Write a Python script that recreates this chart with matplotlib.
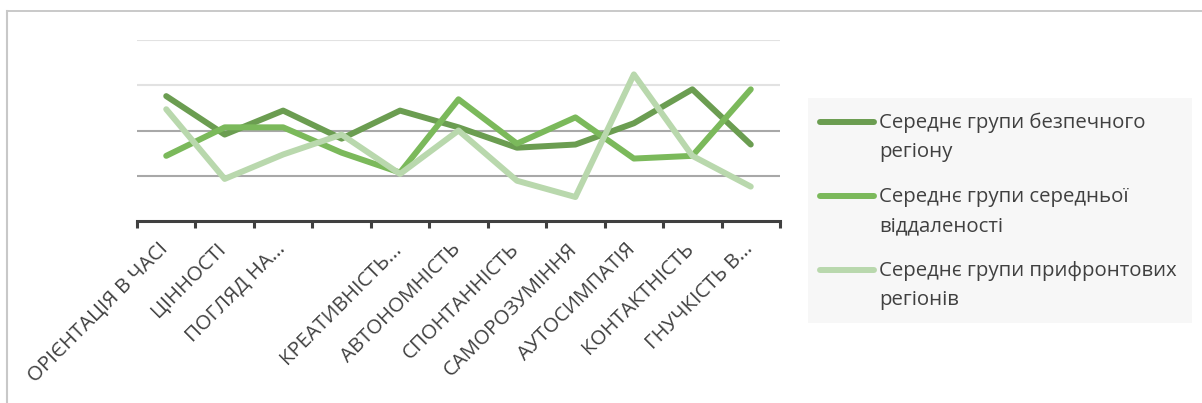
import matplotlib
matplotlib.use('Agg')
import matplotlib.pyplot as plt
from matplotlib.lines import Line2D
from matplotlib.patches import Rectangle
from matplotlib.transforms import ScaledTranslation
import numpy as np

plt.rcParams['font.family'] = ['Open Sans', 'DejaVu Sans']

# categories (4th label is hidden on the reference axis)
categories = ['ОРІЄНТАЦІЯ В ЧАСІ', 'ЦІННОСТІ', 'ПОГЛЯД НА...', '',
              'КРЕАТИВНІСТЬ...', 'АВТОНОМНІСТЬ', 'СПОНТАННІСТЬ',
              'САМОРОЗУМІННЯ', 'АУТОСИМПАТІЯ', 'КОНТАКТНІСТЬ', 'ГНУЧКІСТЬ В...']

safe = [2.76, 1.91, 2.44, 1.82, 2.44, 2.07, 1.62, 1.69, 2.16, 2.91, 1.69]
middle = [1.44, 2.07, 2.07, 1.51, 1.07, 2.69, 1.71, 2.29, 1.38, 1.44, 2.91]
front = [2.47, 0.93, 1.47, 1.91, 1.04, 2.00, 0.89, 0.53, 3.24, 1.44, 0.76]

series = [safe, middle, front]
names = ['Середнє групи безпечного\nрегіону',
         'Середнє групи середньої\nвіддаленості',
         'Середнє групи прифронтових\nрегіонів']
colors = ['#6b9d51', '#7bb95b', '#b9d8ad']

fig = plt.figure(figsize=(12.02, 4.03), dpi=100)
ax = fig.add_axes([137/1202, 1 - 221/403, 643/1202, 181/403])

x = np.arange(len(categories))

# gridlines: lower two darker than upper two
grid_colors = ['#a8a8a8', '#a8a8a8', '#e2e2e2', '#e2e2e2']
for lvl, gc in zip([1, 2, 3, 4], grid_colors):
    ax.axhline(lvl, color=gc, linewidth=1.5, zorder=1)

for vals, c in zip(series, colors):
    ax.plot(x, vals, color=c, linewidth=4.3, solid_capstyle='round',
            solid_joinstyle='round', zorder=3)

ax.set_xlim(-0.5, len(categories) - 0.5)
ax.set_ylim(0, 4)
ax.set_yticks([])
for s in ['top', 'right', 'left']:
    ax.spines[s].set_visible(False)
ax.spines['bottom'].set_color('#404040')
ax.spines['bottom'].set_linewidth(2.2)

ax.set_xticks(np.arange(len(categories) + 1) - 0.5)
ax.set_xticklabels([])
ax.tick_params(axis='x', length=5, width=2.2, color='#404040')
ax.set_xticks(x, minor=True)
ax.set_xticklabels(categories, minor=True, rotation=45, ha='right',
                   rotation_mode='anchor', fontsize=14.7, color='#404040')
ax.tick_params(axis='x', which='minor', length=0, pad=13)
shift = ScaledTranslation(-6/72, 0, fig.dpi_scale_trans)
for lab in ax.get_xticklabels(minor=True):
    lab.set_transform(lab.get_transform() + shift)

# outer frame lines (top and left)
fig.add_artist(Line2D([7/1202, 1], [1 - 11/403, 1 - 11/403],
                      color='#c0c0c0', linewidth=1.2))
fig.add_artist(Line2D([7/1202, 7/1202], [0, 1 - 11/403],
                      color='#c8c8c8', linewidth=1.5))

# legend panel
fig.add_artist(Rectangle((808/1202, 1 - 323/403), 384/1202, 225/403,
                         facecolor='#f7f7f7', edgecolor='none',
                         transform=fig.transFigure, zorder=0))
y_rows = [122, 196, 270]
for yr, name, c in zip(y_rows, names, colors):
    fy = 1 - yr/403
    fig.add_artist(Line2D([820/1202, 874/1202], [fy, fy], color=c,
                          linewidth=4.3, solid_capstyle='round'))
    fig.text(879/1202, fy + 9/403, name, ha='left', va='top',
             fontsize=14.7, color='#404040', linespacing=1.6)

fig.savefig('out.png', dpi=100)
